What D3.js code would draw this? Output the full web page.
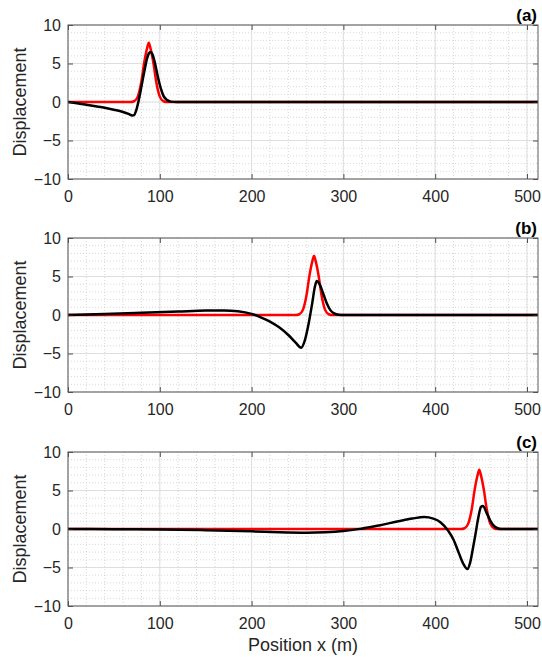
<!DOCTYPE html>
<html>
<head>
<meta charset="utf-8">
<script src="https://cdn.jsdelivr.net/npm/d3@7"></script>
<style>
  html, body { margin: 0; padding: 0; background: #fff; }
  svg { display: block; font-family: "Liberation Sans", Arial, Helvetica, sans-serif; }
</style>
</head>
<body>
<svg id="chart" width="542" height="657"></svg>
<script>
// ---------------- DATA ----------------
const panelLabels = ["(a)", "(b)", "(c)"];
const xTicks = [0, 100, 200, 300, 400, 500];
const yTicks = [-10, -5, 0, 5, 10];
const xDomain = [0, 512];
const yDomain = [-10, 10];
const xLabel = "Position x (m)";
const yLabel = "Displacement";

// Panel (a)
const redA_x = [0, 68, 72, 76, 80, 83, 86, 88, 90, 93, 96, 100, 104, 108, 512];
const redA_y = [0, 0, 0.1, 0.7, 2.7, 5.1, 6.9, 7.7, 6.9, 5.1, 2.7, 0.7, 0.1, 0, 0];
const blackA_x = [0, 10, 20, 30, 40, 50, 60, 66, 70, 72, 74, 77, 80, 83, 86, 88, 90, 92, 95, 98, 101, 104, 108, 112, 118, 512];
const blackA_y = [0, -0.15, -0.35, -0.55, -0.75, -1.0, -1.3, -1.55, -1.75, -1.7, -1.2, 0.2, 2.0, 3.9, 5.6, 6.3, 6.5, 6.2, 4.9, 3.2, 1.8, 0.8, 0.25, 0.05, 0, 0];

// Panel (b)
const redB_x = [0, 248, 252, 256, 260, 263, 266, 268, 270, 273, 276, 280, 284, 288, 512];
const redB_y = [0, 0, 0.1, 0.7, 2.7, 5.1, 6.9, 7.7, 6.9, 5.1, 2.7, 0.7, 0.1, 0, 0];
const blackB_x = [0, 40, 80, 120, 150, 170, 185, 200, 210, 220, 230, 240, 248, 254, 258, 262, 266, 269, 271, 274, 278, 282, 286, 290, 295, 300, 512];
const blackB_y = [0, 0.12, 0.28, 0.45, 0.58, 0.6, 0.5, 0.15, -0.3, -0.85, -1.6, -2.6, -3.6, -4.25, -3.3, -1.2, 1.5, 3.7, 4.4, 4.0, 2.8, 1.5, 0.6, 0.2, 0.03, 0, 0];

// Panel (c)
const redC_x = [0, 428, 432, 436, 440, 443, 446, 448, 450, 453, 456, 460, 464, 468, 512];
const redC_y = [0, 0, 0.1, 0.7, 2.7, 5.1, 6.9, 7.7, 6.9, 5.1, 2.7, 0.7, 0.1, 0, 0];
const blackC_x = [0, 50, 100, 150, 200, 230, 260, 280, 300, 320, 340, 360, 375, 388, 398, 406, 414, 420, 426, 431, 435, 438, 441, 444, 447, 450, 452, 456, 460, 464, 468, 472, 512];
const blackC_y = [0, -0.02, -0.05, -0.15, -0.3, -0.42, -0.48, -0.42, -0.25, 0.05, 0.5, 1.0, 1.35, 1.55, 1.35, 0.85, -0.2, -1.4, -3.2, -4.6, -5.2, -4.4, -2.6, -0.6, 1.5, 2.9, 3.0, 2.1, 1.1, 0.4, 0.1, 0, 0];

const panels = [
  { label: panelLabels[0], red: [redA_x, redA_y], black: [blackA_x, blackA_y] },
  { label: panelLabels[1], red: [redB_x, redB_y], black: [blackB_x, blackB_y] },
  { label: panelLabels[2], red: [redC_x, redC_y], black: [blackC_x, blackC_y] }
];

// ---------------- LAYOUT ----------------
const plotLeft = 68, plotRight = 538, plotH = 154;
const tops = [25, 238, 452];
const axisColor = "#262626";

const svg = d3.select("#chart");
const x = d3.scaleLinear().domain(xDomain).range([plotLeft, plotRight]);

const minorX = d3.range(0, 513, 20);
const minorY = d3.range(-10, 10.01, 1);
const majorX = xTicks;
const majorY = yTicks;

panels.forEach((p, i) => {
  const top = tops[i];
  const y = d3.scaleLinear().domain(yDomain).range([top + plotH, top]);
  const g = svg.append("g");

  // minor grid (dotted)
  g.append("g").selectAll("line").data(minorX).join("line")
    .attr("x1", d => x(d)).attr("x2", d => x(d))
    .attr("y1", top).attr("y2", top + plotH)
    .attr("stroke", "#bdbdbd").attr("stroke-width", 0.6)
    .attr("stroke-dasharray", "1,2");
  g.append("g").selectAll("line").data(minorY).join("line")
    .attr("x1", plotLeft).attr("x2", plotRight)
    .attr("y1", d => y(d)).attr("y2", d => y(d))
    .attr("stroke", "#bdbdbd").attr("stroke-width", 0.6)
    .attr("stroke-dasharray", "1,2");

  // major grid (solid light)
  g.append("g").selectAll("line").data(majorX).join("line")
    .attr("x1", d => x(d)).attr("x2", d => x(d))
    .attr("y1", top).attr("y2", top + plotH)
    .attr("stroke", "#dcdcdc").attr("stroke-width", 0.9);
  g.append("g").selectAll("line").data(majorY).join("line")
    .attr("x1", plotLeft).attr("x2", plotRight)
    .attr("y1", d => y(d)).attr("y2", d => y(d))
    .attr("stroke", "#dcdcdc").attr("stroke-width", 0.9);

  // lines
  const line = d3.line().x(d => x(d[0])).y(d => y(d[1])).curve(d3.curveMonotoneX);
  const redData = p.red[0].map((v, k) => [v, p.red[1][k]]);
  const blackData = p.black[0].map((v, k) => [v, p.black[1][k]]);
  const clipId = "clip" + i;
  svg.append("clipPath").attr("id", clipId).append("rect")
    .attr("x", plotLeft).attr("y", top).attr("width", plotRight - plotLeft).attr("height", plotH);
  const lg = g.append("g").attr("clip-path", `url(#${clipId})`);
  lg.append("path").datum(redData).attr("d", line)
    .attr("fill", "none").attr("stroke", "#ff0000").attr("stroke-width", 2.5)
    .attr("stroke-linejoin", "round");
  lg.append("path").datum(blackData).attr("d", line)
    .attr("fill", "none").attr("stroke", "#000000").attr("stroke-width", 2.5)
    .attr("stroke-linejoin", "round");

  // axes
  const bottom = g.append("g").attr("transform", `translate(0,${top + plotH})`)
    .call(d3.axisBottom(x).tickValues(xTicks).tickSizeInner(-5).tickSizeOuter(0).tickPadding(12));
  const topAx = g.append("g").attr("transform", `translate(0,${top})`)
    .call(d3.axisTop(x).tickValues(xTicks).tickSizeInner(-5).tickSizeOuter(0).tickFormat(""));
  const left = g.append("g").attr("transform", `translate(${plotLeft},0)`)
    .call(d3.axisLeft(y).tickValues(yTicks).tickSizeInner(-5).tickSizeOuter(0).tickPadding(7));
  const right = g.append("g").attr("transform", `translate(${plotRight},0)`)
    .call(d3.axisRight(y).tickValues(yTicks).tickSizeInner(-5).tickSizeOuter(0).tickFormat(""));
  [bottom, topAx, left, right].forEach(a => {
    a.select(".domain").remove();
    a.selectAll(".tick line").attr("stroke", axisColor).attr("stroke-width", 0.8);
    a.selectAll(".tick text").attr("fill", axisColor)
      .style("font-size", "16px").style("font-family", "'Liberation Sans', Arial, sans-serif");
  });

  // box
  g.append("rect").attr("x", plotLeft).attr("y", top)
    .attr("width", plotRight - plotLeft).attr("height", plotH)
    .attr("fill", "none").attr("stroke", "#5a5a5a").attr("stroke-width", 1);

  // y label
  g.append("text")
    .attr("transform", `translate(20,${top + plotH / 2}) rotate(-90)`)
    .attr("text-anchor", "middle").attr("dominant-baseline", "central")
    .attr("fill", axisColor).style("font-size", "18px")
    .text(yLabel);

  // panel label
  g.append("text")
    .attr("x", plotRight - 1).attr("y", top - 10)
    .attr("text-anchor", "end").attr("dominant-baseline", "central")
    .attr("fill", "#000").style("font-size", "17px").style("font-weight", "bold")
    .text(p.label);
});

// x label
svg.append("text")
  .attr("x", (plotLeft + plotRight) / 2).attr("y", 645)
  .attr("text-anchor", "middle").attr("dominant-baseline", "central")
  .attr("fill", axisColor).style("font-size", "18px")
  .text(xLabel);
</script>
</body>
</html>
